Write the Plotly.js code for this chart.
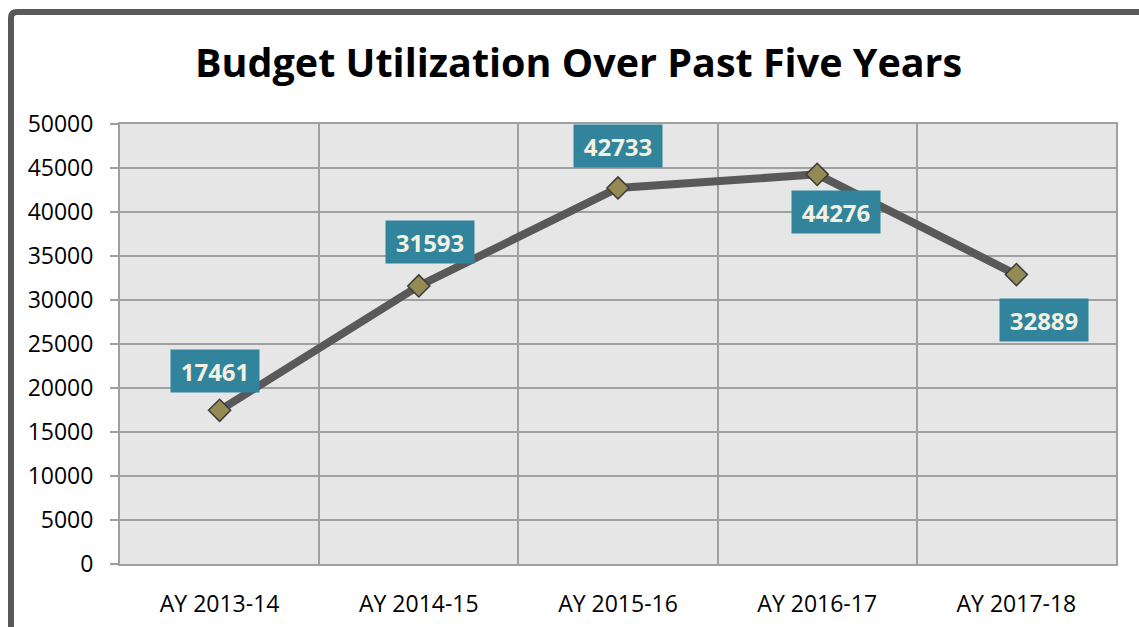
<!DOCTYPE html>
<html>
<head>
<meta charset="utf-8">
<script src="https://cdn.plot.ly/plotly-3.0.1.min.js"></script>
<style>
  html, body { margin: 0; padding: 0; background: #ffffff; }
  #chart { width: 1139px; height: 627px; }
</style>
</head>
<body>
<div id="chart"></div>
<script>
// ---- data ----
const categories = ["AY 2013-14", "AY 2014-15", "AY 2015-16", "AY 2016-17", "AY 2017-18"];
const budgetValues = [17461, 31593, 42733, 44276, 32889];
const labelTexts = ["17461", "31593", "42733", "44276", "32889"];
// label offsets (pixels) relative to each point
const labelXShift = [-5, 11, 0, 19, 28];
const labelYShift = [39, 44, 42, -38, -45];

const W = 1139, H = 627;
const mL = 120, mR = 23, mT = 124, mB = 63;
const plotW = W - mL - mR, plotH = H - mT - mB;
function px2paperX(px) { return (px - mL) / plotW; }
function py2paperY(py) { return (H - mB - py) / plotH; }

const trace = {
  type: "scatter",
  mode: "lines+markers",
  x: categories,
  y: budgetValues,
  line: { color: "#595959", width: 8 },
  marker: {
    symbol: "diamond",
    size: 17,
    color: "#948A54",
    line: { color: "#3b3b3b", width: 1.5 }
  },
  hoverinfo: "skip",
  showlegend: false,
  cliponaxis: false
};

const annotations = categories.map((c, i) => ({
  x: c, y: budgetValues[i], xref: "x", yref: "y",
  text: "<b>" + labelTexts[i] + "</b>",
  showarrow: false,
  xshift: labelXShift[i], yshift: labelYShift[i],
  bgcolor: "#31849B",
  width: 88, height: 42,
  align: "center", valign: "middle",
  borderpad: 0,
  font: { family: "Open Sans, sans-serif", size: 24, color: "#F2F0E1" }
}));

// outer frame (left and top edges visible)
const fx = px2paperX(11), fy = py2paperY(12);
const r = 0.006;
const framePath = "M " + fx + " -0.3 L " + fx + " " + (fy - r * 2.2) +
  " Q " + fx + " " + fy + " " + (fx + r) + " " + fy + " L 1.1 " + fy;

const layout = {
  width: W, height: H,
  margin: { l: mL, r: mR, t: mT, b: mB, pad: 0 },
  paper_bgcolor: "#ffffff",
  plot_bgcolor: "#E6E6E6",
  font: { family: "Open Sans, sans-serif", color: "#000000" },
  title: {
    text: "<b>Budget Utilization Over Past Five Years</b>",
    font: { family: "Open Sans, sans-serif", size: 39.5, color: "#000000" },
    xref: "container", x: 0.508, xanchor: "center",
    yref: "container", y: 1 - 63 / H, yanchor: "middle"
  },
  xaxis: {
    type: "category",
    range: [-0.5, 4.5],
    tickson: "boundaries",
    ticks: "",
    showgrid: true, gridcolor: "#A0A0A0", gridwidth: 2,
    showline: true, linecolor: "#A0A0A0", linewidth: 2, mirror: true,
    zeroline: false,
    tickfont: { family: "Open Sans, sans-serif", size: 23, color: "#000000" },
    ticklabelstandoff: 18,
    fixedrange: true
  },
  yaxis: {
    range: [0, 50000],
    dtick: 5000, tick0: 0,
    ticks: "outside", ticklen: 8, tickwidth: 2, tickcolor: "#A0A0A0",
    showgrid: true, gridcolor: "#A0A0A0", gridwidth: 2,
    showline: true, linecolor: "#A0A0A0", linewidth: 2, mirror: true,
    zeroline: false,
    tickformat: "d",
    tickfont: { family: "Open Sans, sans-serif", size: 23, color: "#000000" },
    ticklabelstandoff: 12,
    fixedrange: true
  },
  annotations: annotations,
  shapes: [{
    type: "path", xref: "paper", yref: "paper",
    path: framePath,
    line: { color: "#595959", width: 6 },
    layer: "above"
  }]
};

Plotly.newPlot("chart", [trace], layout, { displayModeBar: false, staticPlot: true });
</script>
</body>
</html>
